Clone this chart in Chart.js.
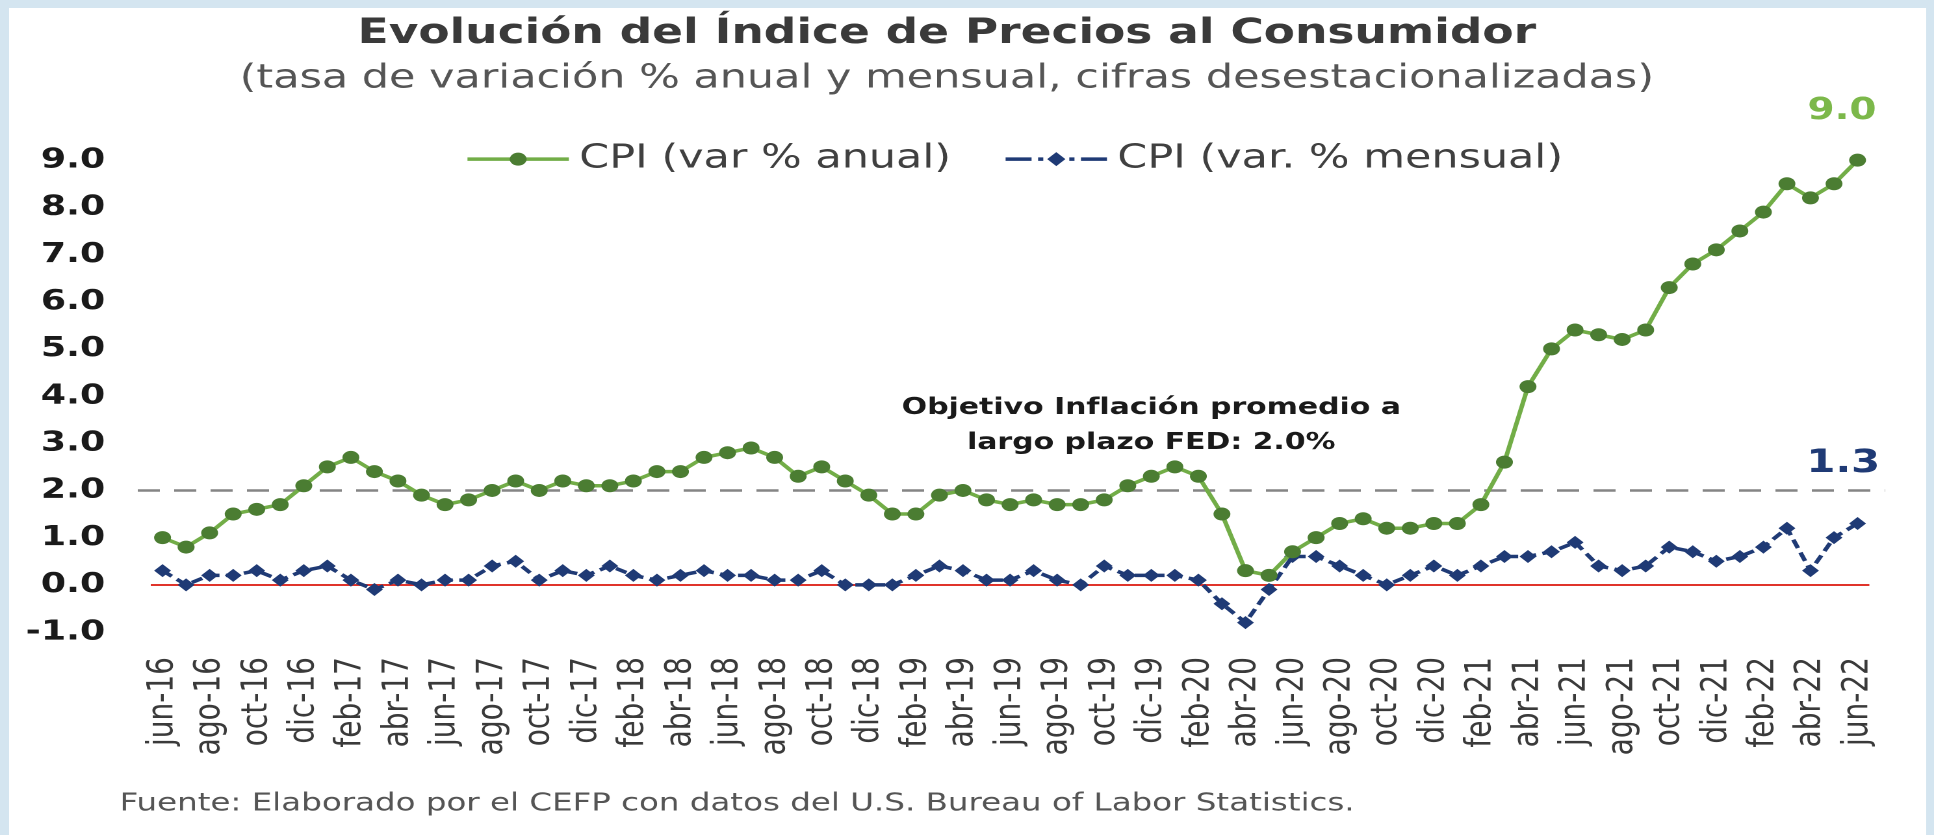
<!DOCTYPE html>
<html lang="es">
<head>
<meta charset="utf-8">
<title>Evolución del Índice de Precios al Consumidor</title>
<script src="https://cdn.jsdelivr.net/npm/chart.js@4.4.1/dist/chart.umd.min.js"></script>
<style>
  html, body { margin: 0; padding: 0; background: #ffffff; overflow: hidden; }
  /* the original picture is stretched sideways, so the canvas is too */
  #cpiChart { display: block; width: 1934px !important; height: 835px !important; }
</style>
</head>
<body>
<canvas id="cpiChart" width="1488" height="835"></canvas>
<script>
// months, jun-16 .. jun-22
const months = [
  'jun-16', 'jul-16', 'ago-16', 'sep-16', 'oct-16', 'nov-16', 'dic-16',
  'ene-17', 'feb-17', 'mar-17', 'abr-17', 'may-17', 'jun-17', 'jul-17', 'ago-17', 'sep-17', 'oct-17', 'nov-17', 'dic-17',
  'ene-18', 'feb-18', 'mar-18', 'abr-18', 'may-18', 'jun-18', 'jul-18', 'ago-18', 'sep-18', 'oct-18', 'nov-18', 'dic-18',
  'ene-19', 'feb-19', 'mar-19', 'abr-19', 'may-19', 'jun-19', 'jul-19', 'ago-19', 'sep-19', 'oct-19', 'nov-19', 'dic-19',
  'ene-20', 'feb-20', 'mar-20', 'abr-20', 'may-20', 'jun-20', 'jul-20', 'ago-20', 'sep-20', 'oct-20', 'nov-20', 'dic-20',
  'ene-21', 'feb-21', 'mar-21', 'abr-21', 'may-21', 'jun-21', 'jul-21', 'ago-21', 'sep-21', 'oct-21', 'nov-21', 'dic-21',
  'ene-22', 'feb-22', 'mar-22', 'abr-22', 'may-22', 'jun-22'
];

// CPI, var % anual
const cpiAnual = [
  1.0, 0.8, 1.1, 1.5, 1.6, 1.7, 2.1,
  2.5, 2.7, 2.4, 2.2, 1.9, 1.7, 1.8, 2.0, 2.2, 2.0, 2.2, 2.1,
  2.1, 2.2, 2.4, 2.4, 2.7, 2.8, 2.9, 2.7, 2.3, 2.5, 2.2, 1.9,
  1.5, 1.5, 1.9, 2.0, 1.8, 1.7, 1.8, 1.7, 1.7, 1.8, 2.1, 2.3,
  2.5, 2.3, 1.5, 0.3, 0.2, 0.7, 1.0, 1.3, 1.4, 1.2, 1.2, 1.3,
  1.3, 1.7, 2.6, 4.2, 5.0, 5.4, 5.3, 5.2, 5.4, 6.3, 6.8, 7.1,
  7.5, 7.9, 8.5, 8.2, 8.5, 9.0
];

// CPI, var % mensual
const cpiMensual = [
  0.3, 0.0, 0.2, 0.2, 0.3, 0.1, 0.3,
  0.4, 0.1, -0.1, 0.1, 0.0, 0.1, 0.1, 0.4, 0.5, 0.1, 0.3, 0.2,
  0.4, 0.2, 0.1, 0.2, 0.3, 0.2, 0.2, 0.1, 0.1, 0.3, 0.0, 0.0,
  0.0, 0.2, 0.4, 0.3, 0.1, 0.1, 0.3, 0.1, 0.0, 0.4, 0.2, 0.2,
  0.2, 0.1, -0.4, -0.8, -0.1, 0.6, 0.6, 0.4, 0.2, 0.0, 0.2, 0.4,
  0.2, 0.4, 0.6, 0.6, 0.7, 0.9, 0.4, 0.3, 0.4, 0.8, 0.7, 0.5,
  0.6, 0.8, 1.2, 0.3, 1.0, 1.3
];

const targetFed = 2.0;
const yMin = -1;
const yMax = 9;

const GREEN_LINE = '#72ad47';
const GREEN_DOT = '#4b7d32';
const NAVY = '#1f3a75';
const FONT = 'DejaVu Sans';

// legend drawn by hand, it sits inside the plot on the 9.0 row
function drawLegend(chart) {
  const { ctx, chartArea, scales } = chart;
  const y = scales.y.getPixelForValue(yMax) - 1;
  const symW = 78, gap = 8, between = 42;
  ctx.save();
  ctx.font = '33px "' + FONT + '"';
  const items = chart.data.datasets.map((ds) => ({ ds, w: ctx.measureText(ds.label).width }));
  const total = items.reduce((s, it) => s + symW + gap + it.w, 0) + between * (items.length - 1);
  let x = (chartArea.left + chartArea.right) / 2 - total / 2 + 4;
  items.forEach((it, i) => {
    const c = it.ds.borderColor;
    const mx = x + symW / 2;
    ctx.strokeStyle = c;
    ctx.fillStyle = c;
    ctx.lineWidth = 3.5;
    ctx.beginPath();
    if (i === 1) {
      ctx.moveTo(x, y); ctx.lineTo(x + 20, y);
      ctx.moveTo(x + 25, y); ctx.lineTo(x + 29, y);
      ctx.moveTo(x + symW - 29, y); ctx.lineTo(x + symW - 25, y);
      ctx.moveTo(x + symW - 20, y); ctx.lineTo(x + symW, y);
    } else {
      ctx.moveTo(x, y); ctx.lineTo(x + symW, y);
    }
    ctx.stroke();
    ctx.fillStyle = it.ds.pointBackgroundColor;
    ctx.beginPath();
    if (i === 1) {
      ctx.moveTo(mx, y - 7); ctx.lineTo(mx + 7, y); ctx.lineTo(mx, y + 7); ctx.lineTo(mx - 7, y);
      ctx.closePath();
    } else {
      ctx.arc(mx, y, 6.5, 0, Math.PI * 2);
    }
    ctx.fill();
    ctx.fillStyle = '#404040';
    ctx.textAlign = 'left';
    ctx.textBaseline = 'middle';
    ctx.fillText(it.ds.label, x + symW + gap, y);
    x += symW + gap + it.w + between;
  });
  ctx.restore();
}

// dashed target line, legend, end values, note and source
const extras = {
  id: 'extras',
  beforeDraw(chart) {
    const ctx = chart.ctx;
    ctx.save();
    ctx.fillStyle = '#d4e5f0';
    ctx.fillRect(0, 0, chart.width, chart.height);
    ctx.fillStyle = '#ffffff';
    ctx.fillRect(7, 8, chart.width - 13, chart.height - 8);
    ctx.restore();
  },
  beforeDatasetsDraw(chart) {
    const { ctx, chartArea, scales } = chart;
    const y = scales.y.getPixelForValue(targetFed);
    ctx.save();
    ctx.strokeStyle = '#858585';
    ctx.lineWidth = 2.5;
    ctx.setLineDash([17, 11]);
    ctx.beginPath();
    ctx.moveTo(chartArea.left - 10, y);
    ctx.lineTo(chartArea.right + 12, y);
    ctx.stroke();
    ctx.restore();
    drawLegend(chart);
  },
  afterDatasetsDraw(chart) {
    const { ctx, scales } = chart;
    const last = months.length - 1;
    const pA = chart.getDatasetMeta(0).data[last];
    const pM = chart.getDatasetMeta(1).data[last];
    ctx.save();
    ctx.textAlign = 'center';
    ctx.textBaseline = 'middle';
    ctx.fillStyle = '#7cb84a';
    ctx.font = 'bold 30px "' + FONT + '"';
    ctx.fillText(cpiAnual[last].toFixed(1), pA.x - 12, pA.y - 49);
    ctx.fillStyle = NAVY;
    ctx.font = 'bold 32px "' + FONT + '"';
    ctx.fillText(cpiMensual[last].toFixed(1), pM.x - 11, pM.y - 60);

    // note on the FED target
    const nx = scales.x.getPixelForValue(42);
    ctx.fillStyle = '#1a1a1a';
    ctx.font = 'bold 23px "' + FONT + '"';
    ctx.fillText('Objetivo Inflación promedio a', nx, scales.y.getPixelForValue(3.75));
    ctx.fillText('largo plazo FED: 2.0%', nx, scales.y.getPixelForValue(3.0));

    // source
    ctx.textAlign = 'left';
    ctx.fillStyle = '#555555';
    ctx.font = '25px "' + FONT + '"';
    ctx.fillText('Fuente: Elaborado por el CEFP con datos del U.S. Bureau of Labor Statistics.', 92, 804);
    ctx.restore();
  }
};

const ctx = document.getElementById('cpiChart').getContext('2d');
new Chart(ctx, {
  type: 'line',
  data: {
    labels: months,
    datasets: [
      {
        label: 'CPI (var % anual)',
        data: cpiAnual,
        borderColor: GREEN_LINE,
        backgroundColor: GREEN_DOT,
        borderWidth: 3.5,
        pointStyle: 'circle',
        pointRadius: 6.5,
        pointBackgroundColor: GREEN_DOT,
        pointBorderColor: GREEN_DOT,
        pointBorderWidth: 0,
        tension: 0,
        clip: false
      },
      {
        label: 'CPI (var. % mensual)',
        data: cpiMensual,
        borderColor: NAVY,
        backgroundColor: NAVY,
        borderWidth: 3.5,
        borderDash: [9, 5],
        pointStyle: 'rectRot',
        pointRadius: 6.5,
        pointBackgroundColor: NAVY,
        pointBorderColor: NAVY,
        pointBorderWidth: 0,
        tension: 0,
        clip: false
      }
    ]
  },
  options: {
    responsive: false,
    devicePixelRatio: 2,
    animation: false,
    events: [],
    layout: { padding: { top: 0, left: 0, right: 31, bottom: 0 } },
    plugins: {
      tooltip: { enabled: false },
      legend: { display: false },
      title: {
        display: true,
        text: 'Evolución del Índice de Precios al Consumidor',
        color: '#3a3a3a',
        font: { family: FONT, size: 35, weight: 'bold', lineHeight: 1.2 },
        padding: { top: 13, bottom: 0 }
      },
      subtitle: {
        display: true,
        text: '(tasa de variación % anual y mensual, cifras desestacionalizadas)',
        color: '#555555',
        font: { family: FONT, size: 33, lineHeight: 1.2 },
        padding: { top: 4, bottom: 46 }
      }
    },
    scales: {
      x: {
        offset: true,
        grid: { display: false, drawTicks: false },
        border: { display: false },
        ticks: {
          autoSkip: false,
          minRotation: 90,
          maxRotation: 90,
          padding: 25,
          color: '#3a3a3a',
          font: { family: FONT, size: 28 },
          callback: function (value, index) {
            return index % 2 === 0 ? this.getLabelForValue(value) : '';
          }
        },
        afterFit: (scale) => { scale.height = 203; }
      },
      y: {
        min: yMin,
        max: yMax + 0.33,
        grid: {
          drawTicks: false,
          lineWidth: 2,
          color: (c) => (c.tick && c.tick.value === 0 ? '#e0342b' : 'rgba(0,0,0,0)')
        },
        border: { display: false },
        ticks: {
          stepSize: 1,
          includeBounds: false,
          padding: 35,
          color: '#1a1a1a',
          font: { family: FONT, size: 28, weight: 'bold' },
          callback: (v) => Number(v).toFixed(1)
        },
        afterFit: (scale) => { scale.width = 116; }
      }
    }
  },
  plugins: [extras]
});
</script>
</body>
</html>
